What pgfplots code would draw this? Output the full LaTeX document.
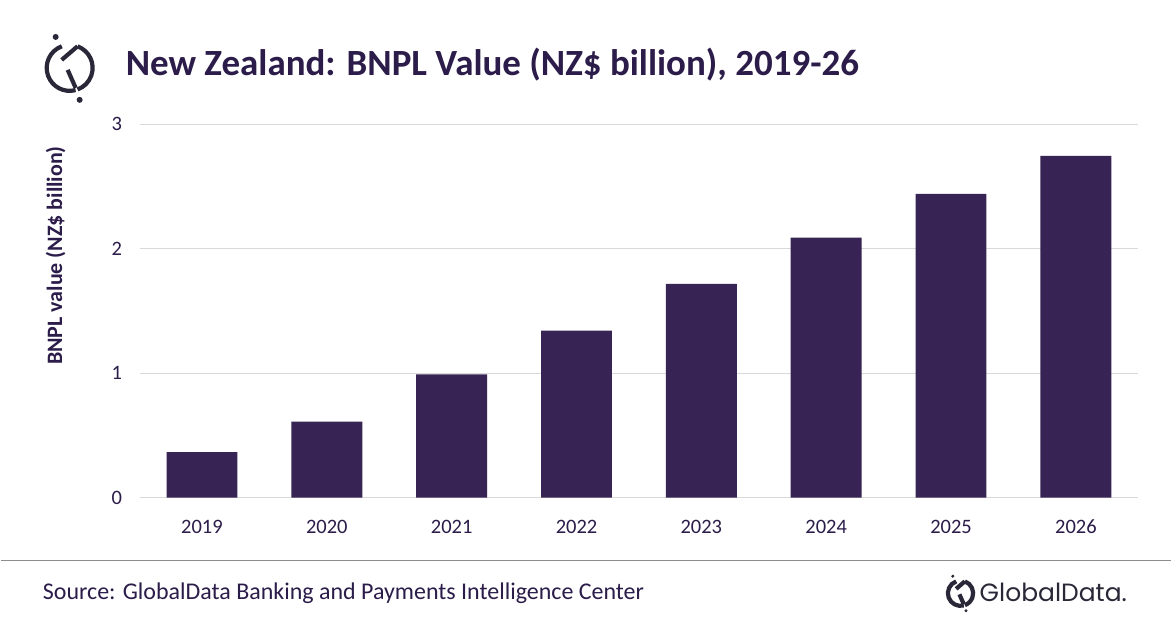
\documentclass[border=0pt]{standalone}
\usepackage{pgfplots}
\pgfplotsset{compat=1.18}
\usepackage{fontspec}
\setmainfont{Carlito}
\newfontfamily\popfont{Poppins}
\definecolor{txt}{HTML}{2B1C4A}
\definecolor{bar}{HTML}{372454}
\definecolor{gridc}{HTML}{D9D9D9}
\definecolor{logo}{HTML}{2A2838}
\begin{document}
\begin{tikzpicture}[x=1pt,y=1pt]
\fill[white] (0,0) rectangle (1172,628);
% logo top-left
\begin{scope}[shift={(69,560)},line width=4.2pt,color=logo]
\draw (110:23) arc (110:285:23);
\draw (70:23) arc (70:-70:23);
\draw (70:23) -- (-8,8);
\draw (-2,-2) -- (6,-20);
\fill (-14,31) circle (3);
\fill (10,-32) circle (3);
\end{scope}
\node[anchor=base west,inner sep=0,text=txt] at (125,552) {\fontsize{37}{44}\selectfont\bfseries New Zealand: BNPL Value (NZ\$ billion), 2019-26};
\begin{axis}[
  at={(139pt,129.7pt)}, anchor=south west,
  scale only axis, width=1000pt, height=374pt,
  xmin=-0.5, xmax=7.5, ymin=0, ymax=3,
  xtick={0,...,7},
  xticklabels={2019,2020,2021,2022,2023,2024,2025,2026},
  ytick={0,1,2,3},
  axis line style={draw=none},
  tick style={draw=none},
  ymajorgrids, grid style={draw=gridc, line width=1.2pt},
  tick label style={text=txt,font=\fontsize{20.5}{24}\selectfont},
  /pgf/number format/assume math mode=true,
  xticklabel style={yshift=-14pt, text height=14.5pt, text depth=0pt},
  yticklabel style={xshift=-14pt},
  ybar, bar width=71pt,
]
\addplot[fill=bar,draw=none] coordinates {(0,0.366) (1,0.61) (2,0.99) (3,1.342) (4,1.718) (5,2.088) (6,2.44) (7,2.745)};
\end{axis}
\node[rotate=90,text=txt,inner sep=0] at (55,372) {\fontsize{22}{26}\selectfont\bfseries BNPL value (NZ\$ billion)};
\draw[color=black!45,line width=1.5pt] (0,67) -- (1172,67);
\node[anchor=base west,inner sep=0,text=txt] at (42,28) {\fontsize{24}{28}\selectfont Source: GlobalData Banking and Payments Intelligence Center};
% logo bottom-right
\begin{scope}[shift={(961,34)},scale=0.55,line width=4.2pt,color=logo]
\draw (110:23) arc (110:285:23);
\draw (70:23) arc (70:-70:23);
\draw (70:23) -- (-8,8);
\draw (-2,-2) -- (6,-20);
\fill (-14,31) circle (3);
\fill (10,-32) circle (3);
\end{scope}
\node[anchor=base west,inner sep=0,text=logo] at (980,26) {\fontsize{25}{29}\selectfont\popfont GlobalData.};
\end{tikzpicture}
\end{document}
